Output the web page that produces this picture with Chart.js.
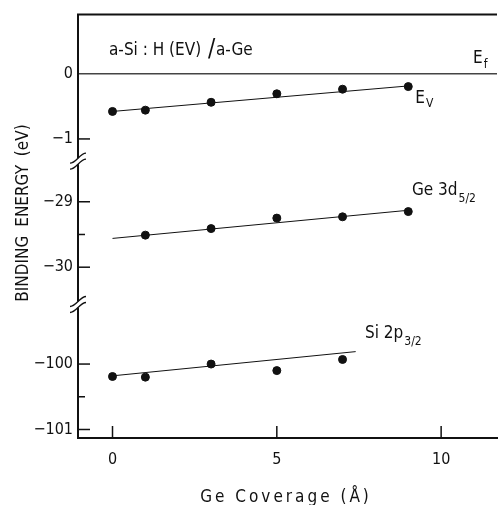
<!DOCTYPE html>
<html>
<head>
<meta charset="utf-8">
<script src="https://cdn.jsdelivr.net/npm/chart.js@4/dist/chart.umd.min.js"></script>
<style>
  html, body { margin: 0; padding: 0; background: #fff; }
  #chart { display: block; }
</style>
</head>
<body>
<canvas id="chart" width="502" height="505"></canvas>
<script>
  // Ge coverage (Angstrom) and binding energies (eV)
  const evCoverage = [0, 1, 3, 5, 7, 9];
  const evValues = [-0.58, -0.56, -0.44, -0.31, -0.24, -0.20];

  const geCoverage = [1, 3, 5, 7, 9];
  const ge3dValues = [-29.51, -29.41, -29.25, -29.23, -29.15];

  const siCoverage = [0, 1, 3, 5, 7];
  const si2pValues = [-100.19, -100.20, -100.00, -100.10, -99.93];

  // straight-line fits drawn through each set (two end points)
  const evFitX = [0, 9];
  const evFitY = [-0.58, -0.19];
  const geFitX = [0, 9];
  const geFitY = [-29.56, -29.13];
  const siFitX = [0, 7.4];
  const siFitY = [-100.18, -99.81];

  const fermiLevel = 0;

  // tick labels
  const xTicks = [0, 5, 10];
  const topTicks = [0, -1];
  const midTicks = [-29, -29.5, -30];
  const botTicks = [-100, -100.5, -101];

  const ink = '#111';
  const narrow = "'Liberation Sans Narrow', 'DejaVu Sans Condensed', sans-serif";

  function pts(xs, ys) {
    return xs.map((x, i) => ({ x: x, y: ys[i] }));
  }

  function tickLabel(v) {
    if (!Number.isInteger(v)) return '';
    return v === 0 ? '0' : '\u2212' + Math.abs(v);
  }

  // the three pieces of the broken energy axis share one column
  function yAxis(ticks, min, max, weight) {
    return {
      type: 'linear',
      position: 'left',
      stack: 'energy',
      stackWeight: weight,
      min: min,
      max: max,
      afterBuildTicks: s => { s.ticks = ticks.map(v => ({ value: v })); },
      afterFit: s => { s.width = 78; },
      border: { display: true, color: ink, width: 2 },
      grid: { display: false, drawTicks: false },
      ticks: {
        color: ink,
        padding: 5,
        font: { family: narrow, size: 16 },
        callback: tickLabel
      }
    };
  }

  function line(ctx, x1, y1, x2, y2) {
    ctx.beginPath();
    ctx.moveTo(x1, y1);
    ctx.lineTo(x2, y2);
    ctx.stroke();
  }

  function breakMark(ctx, x, y) {
    ctx.fillStyle = '#fff';
    ctx.fillRect(x - 3, y - 3, 6, 6);
    [-3, 3].forEach(d => {
      ctx.beginPath();
      ctx.moveTo(x - 8, y + d + 5);
      ctx.bezierCurveTo(x - 2, y + d + 5, x + 2, y + d - 5, x + 8, y + d - 5);
      ctx.stroke();
    });
  }

  function subText(ctx, main, sub, x, y, subDy) {
    ctx.font = '17px ' + narrow;
    ctx.fillText(main, x, y);
    const w = ctx.measureText(main).width;
    ctx.font = '12px ' + narrow;
    ctx.fillText(sub, x + w + 1, y + subDy);
  }

  const decorations = {
    id: 'decorations',
    afterDraw(chart) {
      const { ctx, chartArea: a, scales } = chart;
      const sx = scales.x;
      ctx.save();
      ctx.strokeStyle = ink;
      ctx.fillStyle = ink;

      // top frame line
      ctx.lineWidth = 2;
      line(ctx, a.left - 1, a.top, a.right, a.top);

      // inward tick marks
      ctx.lineWidth = 1.5;
      ['yTop', 'yMid', 'yBot'].forEach(id => {
        const s = scales[id];
        s.ticks.forEach(t => {
          if (t.value === fermiLevel) return;
          const y = s.getPixelForValue(t.value);
          const len = Number.isInteger(t.value) ? 12 : 7;
          line(ctx, a.left, y, a.left + len, y);
        });
      });
      sx.ticks.forEach(t => {
        const x = sx.getPixelForValue(t.value);
        line(ctx, x, a.bottom, x, a.bottom - 12);
      });

      // axis breaks
      ctx.lineWidth = 1.3;
      breakMark(ctx, a.left, scales.yTop.bottom);
      breakMark(ctx, a.left, scales.yMid.bottom);

      // annotations
      ctx.fillStyle = ink;
      ctx.textBaseline = 'alphabetic';
      ctx.textAlign = 'left';
      ctx.font = '17px ' + narrow;
      ctx.fillText('a-Si : H (EV)', 109, 55);
      ctx.font = '24px ' + narrow;
      ctx.fillText('/', 208, 56);
      ctx.font = '17px ' + narrow;
      ctx.fillText('a-Ge', 216, 55);

      subText(ctx, 'E', 'f', 473, 63, 5);
      subText(ctx, 'E', 'V', sx.getPixelForValue(9) + 7, 103, 4);
      subText(ctx, 'Ge 3d', '5/2', 412, 195, 7);
      subText(ctx, 'Si 2p', '3/2', 365, 338, 7);

      // axis titles
      ctx.save();
      ctx.translate(28, 213);
      ctx.rotate(-Math.PI / 2);
      ctx.textAlign = 'center';
      ctx.font = '17px ' + narrow;
      ctx.wordSpacing = '4px';
      ctx.fillText('BINDING ENERGY (eV)', 0, 0);
      ctx.restore();

      ctx.textAlign = 'center';
      ctx.font = '17px ' + narrow;
      ctx.letterSpacing = '3px';
      ctx.fillText('Ge Coverage (\u00C5)', 286, 502);
      ctx.restore();
    }
  };

  const dots = { showLine: false, pointRadius: 4, pointHoverRadius: 4, pointBackgroundColor: ink, pointBorderColor: ink };
  const fit = { showLine: true, pointRadius: 0, borderColor: ink, borderWidth: 1 };

  new Chart(document.getElementById('chart'), {
    type: 'scatter',
    data: {
      datasets: [
        Object.assign({ label: 'Ev', yAxisID: 'yTop', data: pts(evCoverage, evValues) }, dots),
        Object.assign({ label: 'Ev fit', yAxisID: 'yTop', data: pts(evFitX, evFitY) }, fit),
        Object.assign({ label: 'Ge 3d5/2', yAxisID: 'yMid', data: pts(geCoverage, ge3dValues) }, dots),
        Object.assign({ label: 'Ge fit', yAxisID: 'yMid', data: pts(geFitX, geFitY) }, fit),
        Object.assign({ label: 'Si 2p3/2', yAxisID: 'yBot', data: pts(siCoverage, si2pValues) }, dots),
        Object.assign({ label: 'Si fit', yAxisID: 'yBot', data: pts(siFitX, siFitY) }, fit)
      ]
    },
    options: {
      responsive: false,
      devicePixelRatio: 1,
      animation: false,
      layout: { padding: { top: 12, right: 0, left: 0, bottom: 0 } },
      plugins: {
        legend: { display: false },
        tooltip: { enabled: false }
      },
      scales: {
        x: {
          type: 'linear',
          min: -1.05,
          max: 11.7,
          afterBuildTicks: s => { s.ticks = xTicks.map(v => ({ value: v })); },
          afterFit: s => { s.height = 67; },
          border: { display: true, color: ink, width: 2 },
          grid: { display: false, drawTicks: false },
          ticks: {
            color: ink,
            padding: 12,
            font: { family: narrow, size: 16 }
          }
        },
        // stacked axes are laid out bottom-up, so the lowest piece comes first
        yBot: yAxis(botTicks, -101.13, -99.09, 2.04),
        yMid: yAxis(midTicks, -30.57, -28.38, 2.19),
        yTop: Object.assign(yAxis(topTicks, -1.34, 0.9, 2.24), {
          grid: {
            display: true,
            drawTicks: false,
            lineWidth: 1.5,
            color: c => (c.tick && c.tick.value === fermiLevel) ? '#444' : 'rgba(0,0,0,0)'
          }
        })
      }
    },
    plugins: [decorations]
  });
</script>
</body>
</html>
